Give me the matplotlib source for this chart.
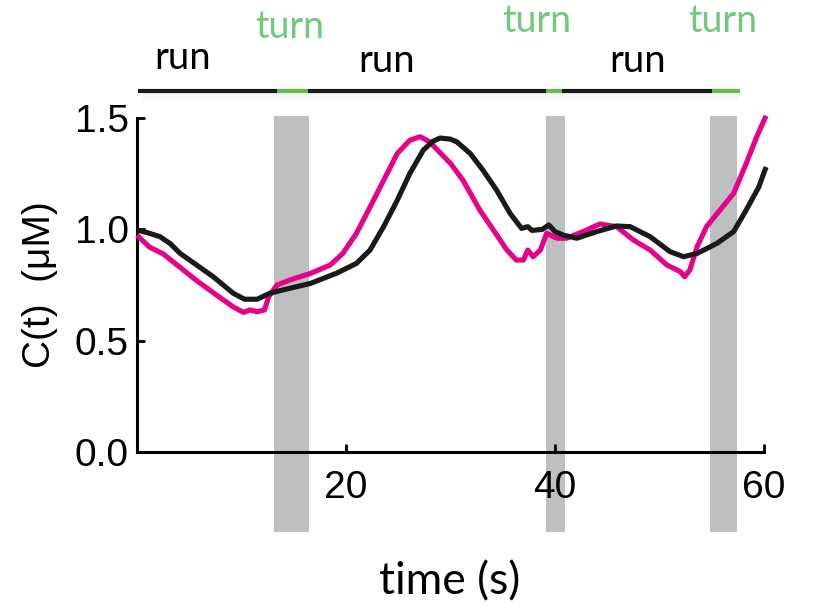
import matplotlib
matplotlib.use("Agg")
import matplotlib.pyplot as plt
import numpy as np

# ---- data ----
t_black = [0.0, 1.0, 2.2, 3.2, 4.1, 5.7, 7.3, 9.2, 10.3, 11.5, 12.7, 14.6, 16.6, 19.1,
           21.0, 22.3, 23.6, 24.9, 26.1, 27.4, 28.3, 29.0, 30.0, 30.6, 31.9, 33.1, 34.4,
           35.7, 36.8, 37.4, 37.8, 38.2, 38.8, 39.4, 40.0, 40.8, 42.1, 44.0, 45.9, 47.2,
           49.1, 51.0, 52.3, 53.6, 55.5, 57.1, 58.3, 59.5, 60.2]
c_black = [0.997, 0.985, 0.967, 0.935, 0.893, 0.84, 0.787, 0.713, 0.686, 0.686, 0.713,
           0.735, 0.757, 0.803, 0.847, 0.907, 1.012, 1.13, 1.25, 1.356, 1.395, 1.41,
           1.405, 1.393, 1.34, 1.266, 1.177, 1.072, 1.004, 1.012, 0.995, 0.997, 1.0,
           1.02, 0.99, 0.974, 0.96, 0.99, 1.015, 1.012, 0.967, 0.9, 0.877, 0.892,
           0.937, 0.99, 1.087, 1.19, 1.28]

t_mag = [0.0, 1.2, 2.5, 4.1, 5.7, 7.6, 9.2, 10.2, 10.8, 11.5, 12.2, 12.6, 13.4, 14.6,
         16.6, 18.5, 19.7, 21.0, 22.3, 23.6, 24.9, 26.1, 27.1, 28.0, 30.0, 31.2, 32.8,
         34.1, 35.4, 36.3, 36.97, 37.4, 37.9, 38.6, 39.2, 40.2, 41.1, 42.7, 44.3, 45.9,
         47.5, 49.1, 50.7, 52.0, 52.4, 52.9, 53.6, 54.5, 55.8, 57.1, 58.3, 59.3, 60.2]
c_mag = [0.974, 0.92, 0.89, 0.83, 0.77, 0.705, 0.652, 0.627, 0.638, 0.63, 0.638, 0.697,
         0.75, 0.772, 0.802, 0.84, 0.892, 0.982, 1.1, 1.22, 1.34, 1.40, 1.416, 1.393,
         1.296, 1.22, 1.087, 0.997, 0.907, 0.862, 0.862, 0.907, 0.877, 0.907, 0.982,
         0.96, 0.96, 0.99, 1.024, 1.012, 0.952, 0.907, 0.84, 0.81, 0.787, 0.817, 0.922,
         1.012, 1.087, 1.162, 1.296, 1.416, 1.51]

turn_start = [13.1, 39.1, 54.8]
turn_end = [16.45, 41.0, 57.4]

bar_segments = [(0.1, 13.4, "run"), (13.4, 16.4, "turn"), (16.4, 39.1, "run"),
                (39.1, 40.7, "turn"), (40.7, 55.0, "run"), (55.0, 57.7, "turn")]
run_label_x = [4.4, 23.9, 47.9]
turn_label_x = [14.6, 38.3, 56.1]

xticks = [20, 40, 60]
yticks = [0.0, 0.5, 1.0, 1.5]

MAG = "#e6008a"
BLK = "#1a1a1a"
GRAY = "#bebfc1"
GREEN_BAR = "#66bb4f"
GREEN_TXT = "#72c87c"

fig = plt.figure(figsize=(8.13, 6.05), dpi=100)
ax = fig.add_axes([137/813, 1-452/605, (764-137)/813, (452-118)/605])
ax.set_xlim(0, 60)
ax.set_ylim(0, 1.5)

for s, e in zip(turn_start, turn_end):
    ax.add_patch(plt.Rectangle((s, -0.36), e - s, 1.87, color=GRAY, lw=0,
                               clip_on=False, zorder=1))

ax.plot(t_mag, c_mag, color=MAG, lw=3.7, clip_on=False, zorder=3,
        solid_capstyle='butt', solid_joinstyle='round')
ax.plot(t_black, c_black, color=BLK, lw=3.7, clip_on=False, zorder=4,
        solid_capstyle='butt', solid_joinstyle='round')

# top run/turn bar with a soft shadow
ybar = 1.623
for k in range(1, 9):
    ax.plot([0.6, 57.4], [ybar - 0.006 * k, ybar - 0.006 * k], color="#000000",
            alpha=0.018 * (1 - k / 10), lw=2.5, clip_on=False, zorder=2,
            solid_capstyle='round')
for s, e, kind in bar_segments:
    ax.plot([s, e], [ybar, ybar], color=BLK if kind == "run" else GREEN_BAR,
            lw=3.0, clip_on=False, zorder=5, solid_capstyle='butt')

run_y = [1.72, 1.706, 1.706]
turn_y = [1.86, 1.886, 1.886]
for x, y in zip(run_label_x, run_y):
    ax.text(x, y, "run", ha="center", va="baseline", fontsize=27.5, family="Lato",
            color="#000000", clip_on=False)
for x, y in zip(turn_label_x, turn_y):
    ax.text(x, y, "turn", ha="center", va="baseline", fontsize=27, family="Lato",
            color=GREEN_TXT, clip_on=False)

for sp in ["top", "right"]:
    ax.spines[sp].set_visible(False)
for sp in ["left", "bottom"]:
    ax.spines[sp].set_linewidth(2.2)
    ax.spines[sp].set_color("#000000")

ax.set_xticks(xticks)
ax.set_xticklabels([str(v) for v in xticks], family="Liberation Sans", fontsize=28)
ax.set_yticks(yticks)
ax.set_yticklabels([f"{v:.1f}" for v in yticks], family="Liberation Sans", fontsize=28)
ax.tick_params(axis="x", direction="in", length=6, width=2, pad=13)
ax.tick_params(axis="y", direction="in", length=6, width=2, pad=6)

fig.text(40/813, 1-285/605, "C(t)  (\u03bcM)", rotation=90, ha="center", va="center",
         fontsize=28, family="Liberation Sans")
fig.text(450/813, 1-582/605, "time (s)", ha="center", va="center",
         fontsize=32, family="Lato")

fig.savefig("out.png", dpi=100)
